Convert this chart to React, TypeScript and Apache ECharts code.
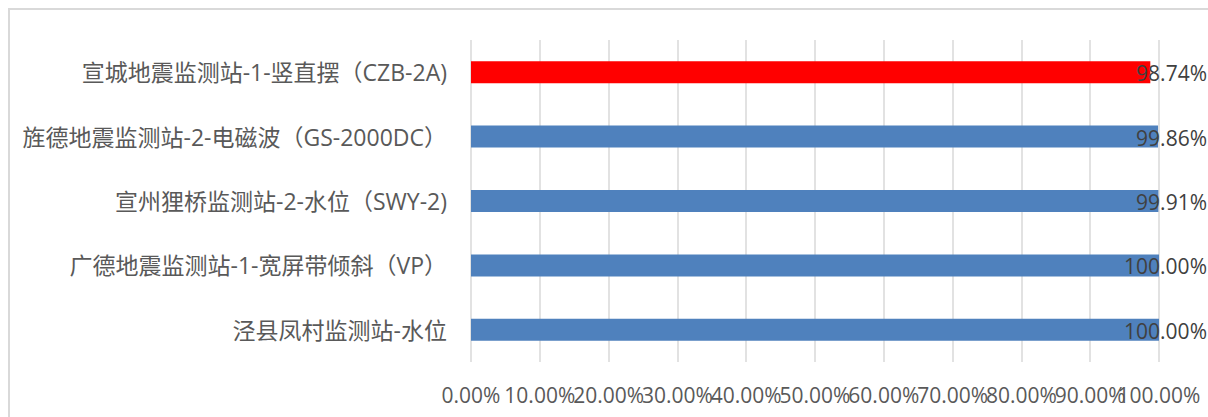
import React, { useEffect, useRef } from "react";
import * as echarts from "echarts";

const categories = [
  "泾县凤村监测站-水位",
  "广德地震监测站-1-宽屏带倾斜（VP）",
  "宣州狸桥监测站-2-水位（SWY-2)",
  "旌德地震监测站-2-电磁波（GS-2000DC）",
  "宣城地震监测站-1-竖直摆（CZB-2A)",
];
const values = [100.0, 100.0, 99.91, 99.86, 98.74];
const barColors = ["#4f81bd", "#4f81bd", "#4f81bd", "#4f81bd", "#ff0000"];
const xTicks = { min: 0, max: 100, interval: 10 };

const FONT = "'Open Sans', 'Noto Sans CJK SC', sans-serif";

export default function App() {
  const ref = useRef<HTMLDivElement>(null);
  useEffect(() => {
    if (!ref.current) return;
    const chart = echarts.init(ref.current, undefined, { renderer: "svg" });
    const gridLeft = 461;
    const gridRight = 49;
    const width = 1198;
    const pxPer = (width - gridLeft - gridRight) / (xTicks.max - xTicks.min);
    const labelStyle = {
      color: "#595959",
      fontFamily: FONT,
      fontSize: 21,
      margin: 22,
      formatter: (v: number) => v.toFixed(2) + "%",
    };
    chart.setOption({
      animation: false,
      backgroundColor: "#ffffff",
      grid: { left: gridLeft, right: gridRight, top: 30, bottom: 55, containLabel: false },
      xAxis: [
        {
          type: "value",
          position: "bottom",
          min: xTicks.min,
          max: xTicks.max,
          interval: xTicks.interval,
          axisLine: { show: false },
          axisTick: { show: false },
          splitLine: { show: true, lineStyle: { color: "#d9d9d9", width: 1.5 } },
          axisLabel: { ...labelStyle, showMinLabel: true, showMaxLabel: false },
        },
        {
          type: "value",
          position: "bottom",
          min: xTicks.min,
          max: xTicks.max,
          interval: xTicks.max - xTicks.min,
          axisLine: { show: false },
          axisTick: { show: false },
          splitLine: { show: false },
          axisLabel: {
            ...labelStyle,
            showMinLabel: false,
            showMaxLabel: true,
          },
        },
      ],
      yAxis: {
        type: "category",
        data: categories,
        axisLine: { show: false },
        axisTick: { show: false },
        splitLine: { show: false },
        axisLabel: {
          color: "#595959",
          fontFamily: FONT,
          fontSize: 23,
          margin: 24,
        },
      },
      series: [
        {
          type: "bar",
          xAxisIndex: 0,
          barWidth: 22,
          data: values.map((v, i) => ({
            value: v,
            itemStyle: { color: barColors[i] },
            label: {
              show: true,
              position: "insideRight",
              offset: [(xTicks.max - v) * pxPer + 53, 1],
              color: "#404040",
              fontFamily: FONT,
              fontSize: 21,
              formatter: () => v.toFixed(2) + "%",
            },
          })),
        },
      ],
    });
    return () => chart.dispose();
  }, []);
  return (
    <div
      style={{
        position: "fixed",
        left: 8,
        top: 8,
        width: 1200,
        height: 409,
        boxSizing: "border-box",
        borderLeft: "2px solid #d9d9d9",
        borderTop: "2px solid #d9d9d9",
        overflow: "hidden",
        background: "#ffffff",
      }}
    >
      <div ref={ref} style={{ width: 1198, height: 407 }} />
    </div>
  );
}
